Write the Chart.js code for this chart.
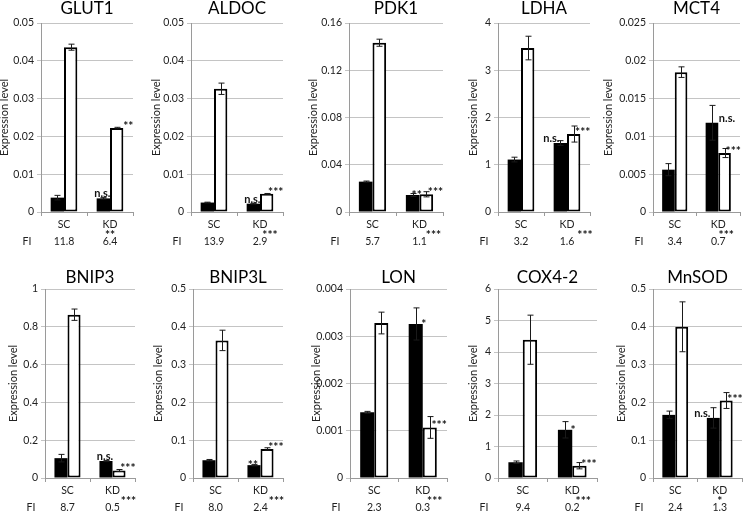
<!DOCTYPE html>
<html>
<head>
<meta charset="utf-8">
<title>Expression levels</title>
<script src="https://cdn.jsdelivr.net/npm/chart.js@4.4.0/dist/chart.umd.min.js"></script>
<style>
  html, body { margin: 0; padding: 0; background: #fff; }
  #figure { position: relative; width: 745px; height: 513px; overflow: hidden; }
  #figure canvas { position: absolute; }
</style>
</head>
<body>
<div id="figure"></div>
<script>
/* ============================================
   DATA
   ============================================ */
const genes = ["GLUT1", "ALDOC", "PDK1", "LDHA", "MCT4", "BNIP3", "BNIP3L", "LON", "COX4-2", "MnSOD"];
const groups = ["SC", "KD"];

// y axis range per panel
const axisMax = [0.05, 0.05, 0.16, 4, 0.025, 1, 0.5, 0.004, 6, 0.5];
const axisStep = [0.01, 0.01, 0.04, 1, 0.005, 0.2, 0.1, 0.001, 1, 0.1];

// black bars: [SC, KD]
const blackValues = [
  [0.0038, 0.0036], [0.0025, 0.0022], [0.0257, 0.0144], [1.11, 1.46], [0.0056, 0.0118],
  [0.105, 0.09], [0.047, 0.034], [0.00139, 0.00326], [0.5, 1.53], [0.167, 0.159]
];
const blackErrors = [
  [0.0006, 0.0002], [0.0001, 0.0001], [0.0005, 0.0012], [0.05, 0.05], [0.0008, 0.0023],
  [0.02, 0.003], [0.002, 0.002], [0.00002, 0.00034], [0.04, 0.26], [0.01, 0.027]
];
// white bars: [SC, KD]
const whiteValues = [
  [0.0436, 0.0222], [0.0326, 0.0048], [0.1433, 0.015], [3.47, 1.65], [0.0185, 0.0078],
  [0.864, 0.04], [0.364, 0.077], [0.00328, 0.00107], [4.39, 0.39], [0.40, 0.205]
];
const whiteErrors = [
  [0.0008, 0.0002], [0.0015, 0.0001], [0.003, 0.0022], [0.25, 0.17], [0.0007, 0.0006],
  [0.03, 0.005], [0.027, 0.003], [0.00023, 0.00023], [0.78, 0.1], [0.066, 0.021]
];

// significance marks next to the KD bars
const blackMarks = ["n.s.", "n.s.", "**", "n.s.", "n.s.", "n.s.", "**", "*", "*", "n.s."];
const whiteMarks = ["**", "***", "***", "***", "***", "***", "***", "***", "***", "***"];

// fold induction row
const fiValues = [
  ["11.8", "6.4"], ["13.9", "2.9"], ["5.7", "1.1"], ["3.2", "1.6"], ["3.4", "0.7"],
  ["8.7", "0.5"], ["8.0", "2.4"], ["2.3", "0.3"], ["9.4", "0.2"], ["2.4", "1.3"]
];
const fiMarks = ["**", "***", "***", "***", "***", "***", "***", "***", "***", "*"];

/* ============================================
   LAYOUT (pixels in the 745x513 picture)
   ============================================ */
const panelAxisX = [41, 191, 349, 498, 653, 45, 193, 350, 498, 653];
const panelPlotRight = [133, 283, 443, 590, 740, 135, 283, 447, 597, 742];
const panelTitleGap = [36, 34, 35, 24, 44, 31, 34, 33, 24, 31];
const blackMarkShift = [-1, -1, 4, -9, 15, -1, -1, 8, 8, -11];
const fiMarkShift = [0, 10, 14, 18, 8, 16, 16, 12, 11, 0];
const rowTop = [0, 266];
const titleOffset = [-14.5, -11.7];

const FONT = "Lato, 'Liberation Sans', sans-serif";
const TEXT = "#222222";
const GRID = "#c4c4c4";
const AXIS = "#9a9a9a";
const CANVAS_H = 248;
const PAD_RIGHT = 8;

Chart.defaults.font.family = FONT;

// error bars, marks, titles and the FI row
const decorPlugin = {
  id: "decor",
  afterDatasetsDraw(chart, args, opts) {
    const ctx = chart.ctx;
    const yScale = chart.scales.y;
    chart.data.datasets.forEach((ds, di) => {
      const meta = chart.getDatasetMeta(di);
      meta.data.forEach((bar, i) => {
        const v = ds.data[i];
        const e = ds.errors[i];
        const x = Math.round(bar.x) + 0.5;
        const yT = yScale.getPixelForValue(v + e);
        const yB = yScale.getPixelForValue(v - e);
        ctx.save();
        ctx.strokeStyle = "#1a1a1a";
        ctx.lineWidth = 1;
        ctx.beginPath();
        ctx.moveTo(x, yT); ctx.lineTo(x, yB);
        ctx.moveTo(x - 3, yT); ctx.lineTo(x + 3, yT);
        ctx.moveTo(x - 3, yB); ctx.lineTo(x + 3, yB);
        ctx.stroke();

        const mark = ds.marks[i];
        if (mark) {
          ctx.fillStyle = "#111";
          ctx.textBaseline = "alphabetic";
          if (di === 0) {
            const isStars = mark.indexOf("*") === 0;
            ctx.font = (isStars ? "bold 12px " : "bold 11px ") + FONT;
            ctx.textAlign = "center";
            ctx.fillText(mark, bar.x + opts.markShift, bar.y + (isStars ? 4 : -1));
          } else {
            ctx.font = "bold 12px " + FONT;
            ctx.textAlign = "right";
            ctx.fillText(mark, bar.x + bar.width / 2 + 10, bar.y + 2);
          }
        }
        ctx.restore();
      });
    });
  },
  afterDraw(chart, args, opts) {
    const { ctx, chartArea } = chart;
    const xScale = chart.scales.x;
    ctx.save();
    ctx.fillStyle = "#000";
    ctx.textAlign = "center";
    ctx.textBaseline = "middle";
    ctx.font = "17px " + FONT;
    ctx.fillText(opts.title, (chartArea.left + chartArea.right) / 2, chartArea.top + opts.titleOffset);

    ctx.fillStyle = "#111";
    ctx.font = "bold 12px " + FONT;
    ctx.textBaseline = "alphabetic";
    ctx.fillText(opts.stars, xScale.getPixelForValue(1) + opts.starShift, chartArea.bottom + 27);

    ctx.fillStyle = TEXT;
    ctx.font = "10.5px " + FONT;
    ctx.textBaseline = "middle";
    ctx.fillText("FI", chartArea.left - 14, chartArea.bottom + 29.5);
    opts.fi.forEach((t, i) => {
      ctx.fillText(t, xScale.getPixelForValue(i), chartArea.bottom + 29.5);
    });
    ctx.restore();
  }
};

function formatTick(value) {
  return String(parseFloat(value.toFixed(5)));
}

function createPanel(p) {
  const row = p < 5 ? 0 : 1;
  const yWidth = Math.round(panelTitleGap[p] + 6.6);
  const left = panelAxisX[p] - yWidth;
  const width = yWidth + (panelPlotRight[p] - panelAxisX[p]) + PAD_RIGHT;

  const canvas = document.createElement("canvas");
  canvas.width = width;
  canvas.height = CANVAS_H;
  canvas.style.left = left + "px";
  canvas.style.top = rowTop[row] + "px";
  document.getElementById("figure").appendChild(canvas);

  new Chart(canvas.getContext("2d"), {
    type: "bar",
    data: {
      labels: groups,
      datasets: [
        {
          label: "Black",
          data: blackValues[p],
          errors: blackErrors[p],
          marks: ["", blackMarks[p]],
          backgroundColor: "#000000",
          borderWidth: 0,
          categoryPercentage: 0.58,
          barPercentage: 1.0
        },
        {
          label: "White",
          data: whiteValues[p],
          errors: whiteErrors[p],
          marks: ["", whiteMarks[p]],
          backgroundColor: "#ffffff",
          borderColor: "#000000",
          borderWidth: 2,
          borderSkipped: false,
          categoryPercentage: 0.58,
          barPercentage: 1.0
        }
      ]
    },
    options: {
      responsive: false,
      animation: false,
      events: [],
      layout: { padding: { top: 23, right: PAD_RIGHT, bottom: 0, left: 0 } },
      plugins: {
        legend: { display: false },
        tooltip: { enabled: false },
        decor: {
          title: genes[p],
          titleOffset: titleOffset[row],
          stars: fiMarks[p],
          starShift: fiMarkShift[p],
          markShift: blackMarkShift[p],
          fi: fiValues[p]
        }
      },
      scales: {
        x: {
          offset: true,
          grid: { display: true, offset: true, drawOnChartArea: false, tickLength: 4, color: AXIS },
          border: { color: AXIS },
          ticks: { font: { size: 10.5 }, color: TEXT, padding: 2, maxRotation: 0 },
          afterFit: (scale) => { scale.height = 36; }
        },
        y: {
          min: 0,
          max: axisMax[p],
          ticks: {
            stepSize: axisStep[p],
            font: { size: 10.5 },
            color: TEXT,
            padding: 3,
            callback: formatTick
          },
          grid: { color: GRID, tickLength: 4 },
          border: { color: AXIS },
          title: {
            display: true,
            text: "Expression level",
            font: { size: 11 },
            color: TEXT,
            padding: 0
          },
          afterFit: (scale) => { scale.width = yWidth; }
        }
      }
    },
    plugins: [decorPlugin]
  });
}

genes.forEach((g, p) => createPanel(p));
</script>
</body>
</html>
